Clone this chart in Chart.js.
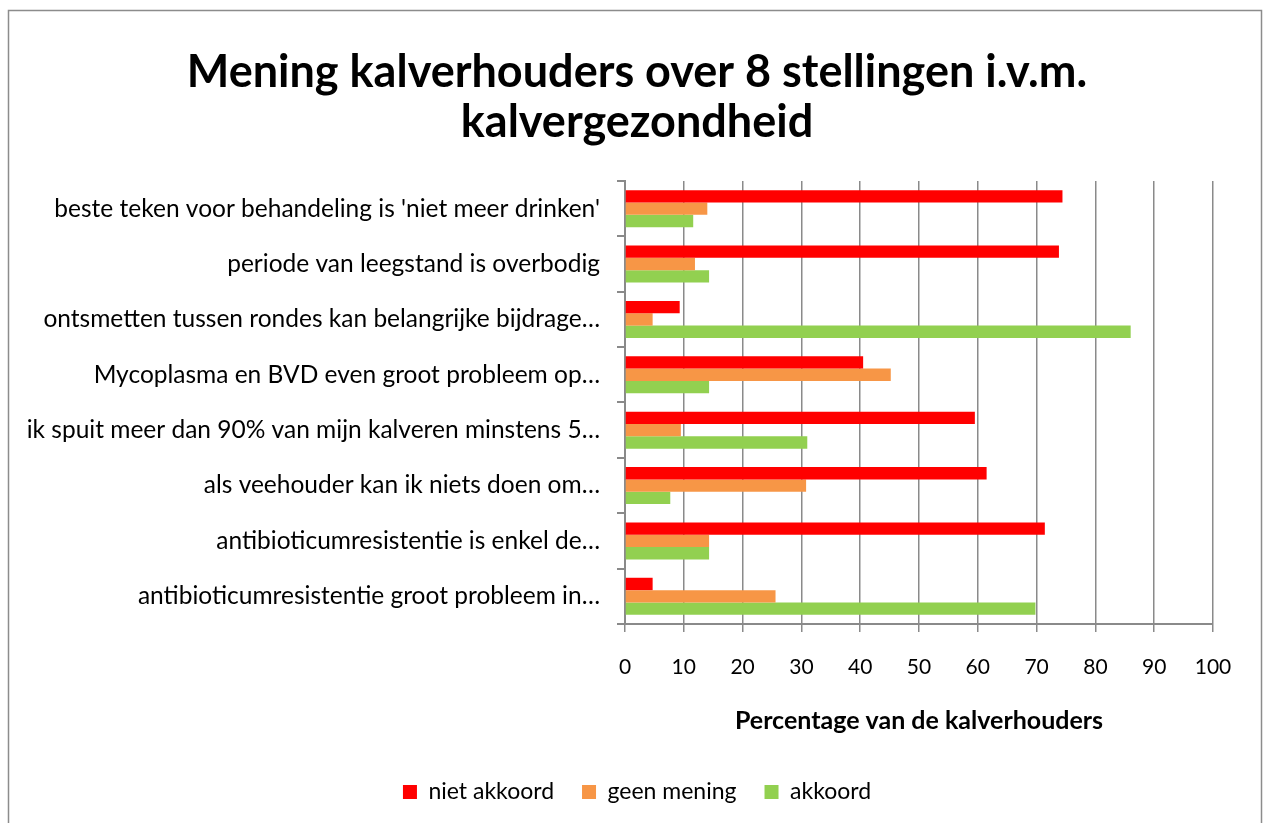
<!DOCTYPE html>
<html>
<head>
<meta charset="utf-8">
<script src="https://cdn.jsdelivr.net/npm/chart.js@4/dist/chart.umd.min.js"></script>
<style>
  html, body { margin: 0; padding: 0; background: #fff; }
  #wrap { width: 1264px; height: 823px; position: relative; }
</style>
</head>
<body>
<div id="wrap"><canvas id="kalverChart" width="1264" height="823"></canvas></div>
<script>
var stellingen = [
    "beste teken voor behandeling is 'niet meer drinken'",
    "periode van leegstand is overbodig",
    "ontsmetten tussen rondes kan belangrijke bijdrage…",
    "Mycoplasma en BVD even groot probleem op…",
    "ik spuit meer dan 90% van mijn kalveren minstens 5…",
    "als veehouder kan ik niets doen om…",
    "antibioticumresistentie is enkel de…",
    "antibioticumresistentie groot probleem in…"
];
var nietAkkoord = [74.4, 73.8, 9.3, 40.5, 59.5, 61.5, 71.4, 4.7];
var geenMening = [14.0, 11.9, 4.7, 45.2, 9.5, 30.8, 14.3, 25.6];
var akkoord = [11.6, 14.3, 86.0, 14.3, 31.0, 7.7, 14.3, 69.8];
var xTicks = [0, 10, 20, 30, 40, 50, 60, 70, 80, 90, 100];

var grijs = '#8a8a8a';

// witte achtergrond + grijze rand zoals in Excel
var achtergrond = {
    id: 'achtergrond',
    beforeDraw: function (chart) {
        var c = chart.ctx;
        c.save();
        c.fillStyle = '#fff';
        c.fillRect(0, 0, chart.width, chart.height);
        c.strokeStyle = '#8c8c8c';
        c.lineWidth = 1.5;
        c.strokeRect(8.5, 10.5, 1253, 830);
        c.restore();
    }
};

var ctx = document.getElementById('kalverChart');
var myChart = new Chart(ctx, {
    type: 'bar',
    data: {
        labels: stellingen,
        datasets: [{
            label: 'niet akkoord',
            data: nietAkkoord,
            backgroundColor: '#ff0000',
            borderWidth: 0
        }, {
            label: 'geen mening',
            data: geenMening,
            backgroundColor: '#f79646',
            borderWidth: 0
        }, {
            label: 'akkoord',
            data: akkoord,
            backgroundColor: '#92d050',
            borderWidth: 0
        }]
    },
    options: {
        indexAxis: 'y',
        responsive: false,
        animation: false,
        layout: { padding: { top: 0, left: 10, right: 0, bottom: 9.5 } },
        datasets: { bar: { categoryPercentage: 0.67, barPercentage: 1.0 } },
        scales: {
            x: {
                min: 0,
                max: 100,
                afterBuildTicks: function (axis) {
                    axis.ticks = xTicks.map(function (v) { return { value: v }; });
                },
                afterFit: function (axis) { axis.height = 128.5; },
                grid: { color: grijs, lineWidth: 1.5, tickLength: 8, tickColor: grijs },
                border: { color: grijs, width: 2 },
                ticks: { color: '#000', font: { family: 'Lato', size: 21 }, padding: 23 },
                title: {
                    display: true,
                    text: 'Percentage van de kalverhouders',
                    color: '#000',
                    font: { family: 'Lato', size: 25, weight: 'bold' },
                    padding: { top: 0, bottom: 16.5 }
                }
            },
            y: {
                afterFit: function (axis) { axis.width = 615; },
                grid: { drawOnChartArea: false, tickLength: 8, tickColor: grijs, lineWidth: 2 },
                border: { color: grijs, width: 2 },
                ticks: { color: '#000', font: { family: 'Lato', size: 24.5 }, padding: 17 }
            },
            // lege as rechts, alleen voor de witruimte naast het plotgebied
            rechts: {
                type: 'category',
                labels: [],
                position: 'right',
                afterFit: function (axis) { axis.width = 51; },
                grid: { display: false },
                border: { display: false },
                ticks: { display: false }
            }
        },
        plugins: {
            title: {
                display: true,
                text: ['Mening kalverhouders over 8 stellingen i.v.m.', 'kalvergezondheid'],
                color: '#000',
                font: { family: 'Lato', size: 45, weight: 'bold', lineHeight: 1.111 },
                padding: { top: 47, bottom: 34 }
            },
            legend: {
                position: 'bottom',
                labels: {
                    color: '#000',
                    font: { family: 'Lato', size: 23 },
                    boxWidth: 14,
                    boxHeight: 14,
                    padding: 28
                }
            },
            tooltip: { enabled: false }
        }
    },
    plugins: [achtergrond]
});
</script>
</body>
</html>
